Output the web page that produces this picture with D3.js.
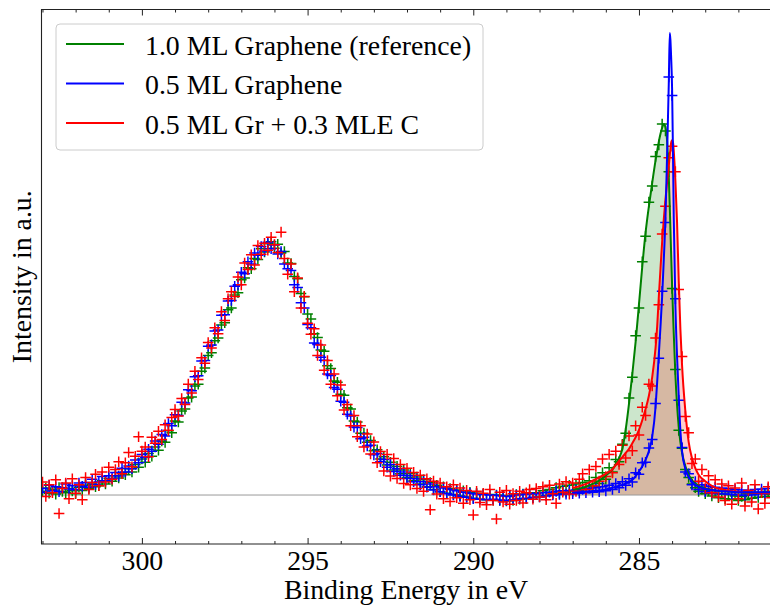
<!DOCTYPE html>
<html>
<head>
<meta charset="utf-8">
<script src="https://cdn.jsdelivr.net/npm/d3@7"></script>
<style>
  html, body { margin: 0; padding: 0; background: #fff; }
  svg { display: block; }
  text { font-family: "Liberation Serif", "DejaVu Serif", serif; fill: #000; }
</style>
</head>
<body>
<svg id="chart" width="770" height="605"></svg>
<script>
// C 1s / broad-feature XPS spectra, intensities normalised to the 0.5 ML peak (x1000)
const energyStart = 303.0;
const energyStep = 0.1;
const pointCount = 221;

const seriesNames = ["1.0 ML Graphene (reference)", "0.5 ML Graphene", "0.5 ML Gr + 0.3 MLE C"];
const seriesColors = ["#008000", "#0000ff", "#ff0000"];

const dataGreen = [
  8,15,4,12,2,16,8,5,14,9,3,17,10,21,14,24,18,20,31,24,
  36,30,42,37,49,44,57,50,66,60,78,71,90,84,104,97,117,114,139,135,
  160,158,182,186,210,212,236,240,268,275,302,308,334,340,368,373,401,405,433,438,
  466,470,492,490,512,510,533,526,544,548,534,543,524,527,502,501,473,468,436,429,
  392,381,349,341,314,311,280,274,247,244,218,216,189,186,160,158,134,134,114,118,
  96,98,78,83,65,71,54,62,46,54,38,46,31,39,24,33,18,27,12,21,
  7,18,4,14,1,11,-2,9,-4,6,-7,4,-9,2,-10,1,-11,0,-12,-1,
  -13,-2,-12,1,-9,2,-8,3,-6,5,-3,9,-1,12,2,16,4,19,6,21,
  8,24,10,27,13,31,18,38,25,48,34,59,50,77,72,110,134,210,255,345,
  405,505,560,634,669,733,758,803,788,700,447,272,140,101,55,38,24,16,8,12,
  3,9,-2,4,-6,2,-8,1,-9,-2,-12,-3,-10,2,-7,4,-5,6,-3,8,
  1
];

const dataBlue = [
  14,6,21,10,18,7,16,24,13,20,12,26,19,27,17,34,23,28,40,31,
  42,36,49,41,58,50,63,57,76,70,88,82,99,95,117,110,131,128,155,150,
  174,172,201,199,228,226,256,258,290,291,322,325,355,357,389,390,420,421,452,455,
  482,479,505,500,524,519,538,528,547,533,541,522,527,500,490,486,455,449,416,405,
  369,362,329,326,298,292,262,259,233,229,203,201,175,171,147,146,122,125,106,108,
  87,90,72,77,60,66,51,57,43,50,36,42,29,35,22,29,17,24,11,18,
  7,15,3,12,0,9,-3,6,-5,4,-8,2,-9,1,-10,0,-9,-1,-11,-2,
  -12,-3,-10,0,-8,1,-7,2,-5,3,-4,5,-2,6,0,8,1,9,2,10,
  3,11,4,12,5,14,6,16,7,18,9,21,12,25,16,29,21,35,28,48,
  45,70,71,102,120,198,296,441,590,905,865,425,205,103,50,46,22,29,12,22,
  7,19,4,17,3,15,2,14,1,12,0,11,-1,10,0,12,2,13,3,14,
  5
];

const dataRed = [
  28,-3,22,5,33,-40,14,26,-8,35,4,22,-10,38,12,27,45,20,50,28,
  60,34,55,72,46,70,92,61,84,126,95,104,83,125,112,138,120,152,140,168,
  185,171,209,196,240,221,268,250,297,285,330,318,362,349,397,378,425,440,430,472,
  455,502,488,520,498,540,521,545,530,558,542,525,569,512,478,500,440,470,405,430,
  372,348,360,302,325,270,291,240,262,215,238,184,196,150,172,126,150,104,132,89,
  115,70,94,52,88,41,79,36,66,25,58,22,49,14,43,8,35,-32,30,2,
  26,-8,18,-14,22,-6,15,-18,10,-10,-43,8,-16,4,-21,12,-12,-52,6,-15,
  10,-20,3,-12,8,-17,5,12,-9,14,-4,18,-10,21,3,-18,24,6,29,2,
  26,8,34,46,12,55,20,62,30,78,40,88,48,95,66,108,80,128,96,150,
  130,190,172,240,236,340,412,565,625,730,755,700,445,300,170,135,68,78,30,55,
  14,42,5,33,-4,24,-12,20,-20,15,-8,26,-24,10,-15,22,-30,5,-18,18,
  -6
];

// Fitted line shapes, sampled on a finer grid around the C 1s peak
const fitEnergy = [
  287.0,286.8,286.6,286.4,286.2,286.0,285.8,285.6,285.5,285.4,
  285.3,285.2,285.1,285.0,284.9,284.8,284.7,284.6,284.5,284.45,
  284.4,284.35,284.3,284.25,284.2,284.15,284.1,284.07,284.05,284.03,
  284.0,283.97,283.95,283.9,283.85,283.8,283.75,283.7,283.6,283.5,
  283.4,283.3,283.2,283.0,282.8,282.6,282.4,282.2,282.0,281.5,
  281.0
];
const fitGreen = [
  12,14,18,24,31,42,56,80,100,142,
  198,262,332,412,495,568,625,676,724,745,
  765,782,795,803,796,765,690,625,575,525,
  455,390,350,260,195,148,115,92,62,44,
  32,25,20,14,11,9,8,7,6,5,
  4
];
const fitBlue = [
  5,6,7,9,10,12,16,20,22,25,
  28,33,41,51,62,76,95,126,190,245,
  305,365,430,510,600,740,890,1000,985,950,
  880,720,600,410,300,215,140,95,57,39,
  29,22,18,13,11,9,8,7,6,6,
  6
];
const fitRed = [
  15,19,24,31,38,46,56,74,82,91,
  100,112,125,141,162,186,215,255,318,365,
  430,490,548,598,640,678,712,735,750,762,
  768,762,745,680,590,465,360,282,182,115,
  80,58,44,30,20,14,11,9,7,5,
  3
];

const xTicksMajor = [300, 295, 290, 285];
const xTicksMinor = d3.range(282, 304, 1);

const xLabel = "Binding Energy in eV";
const yLabel = "Intensity in a.u.";

// ---- layout
const fontSize = 27.8;
const plot = { left: 41.5, right: 771.5, top: 9.5, bottom: 544 };
const svg = d3.select("#chart");

const x = d3.scaleLinear().domain([303.03, 281.0]).range([plot.left, plot.right]);
const y = d3.scaleLinear().domain([-106, 1051]).range([plot.bottom, plot.top]);

const energies = d3.range(pointCount).map(i => +(energyStart - energyStep * i).toFixed(1));

svg.append("defs").append("clipPath").attr("id", "plot-clip")
  .append("rect")
  .attr("x", plot.left).attr("y", plot.top)
  .attr("width", plot.right - plot.left).attr("height", plot.bottom - plot.top);

const body = svg.append("g").attr("clip-path", "url(#plot-clip)");

// shaded fit areas
const fitArea = d3.area()
  .x((d, i) => x(fitEnergy[i]))
  .y0(y(0))
  .y1(d => y(d))
  .curve(d3.curveMonotoneX);

body.append("path").attr("d", fitArea(fitGreen))
  .attr("fill", seriesColors[0]).attr("fill-opacity", 0.2);
body.append("path").attr("d", fitArea(fitRed))
  .attr("fill", seriesColors[2]).attr("fill-opacity", 0.2);

// zero line
body.append("line")
  .attr("x1", plot.left).attr("x2", plot.right)
  .attr("y1", y(0)).attr("y2", y(0))
  .attr("stroke", "#999").attr("stroke-width", 1);

// measured points as "+" markers
const plusPath = (cx, cy, r) => `M${cx - r},${cy}H${cx + r}M${cx},${cy - r}V${cy + r}`;
[dataGreen, dataBlue, dataRed].forEach((vals, k) => {
  const d = vals.map((v, i) => plusPath(x(energies[i]), y(v), 5.3)).join("");
  body.append("path").attr("d", d)
    .attr("fill", "none").attr("stroke", seriesColors[k]).attr("stroke-width", 1.5);
});

// fitted lines
const fitLine = d3.line()
  .x((d, i) => x(fitEnergy[i]))
  .y(d => y(d))
  .curve(d3.curveMonotoneX);

[[fitGreen, 0], [fitRed, 2], [fitBlue, 1]].forEach(([vals, k]) => {
  body.append("path").attr("d", fitLine(vals))
    .attr("fill", "none").attr("stroke", seriesColors[k]).attr("stroke-width", 2);
});

// ---- axes (ticks pointing inward, mirrored on top)
const axisColor = "#222";
const minorValues = xTicksMinor.filter(v => !xTicksMajor.includes(v));

const bottomAxis = svg.append("g").attr("transform", `translate(0,${plot.bottom})`)
  .call(d3.axisBottom(x).tickValues(xTicksMajor).tickSize(-6).tickFormat(d3.format("d")));
bottomAxis.select(".domain").remove();
bottomAxis.selectAll(".tick line").attr("stroke", axisColor);
bottomAxis.selectAll(".tick text")
  .attr("font-family", '"Liberation Serif", serif').attr("font-size", fontSize)
  .attr("dy", null).attr("y", 26);

const minorBottom = svg.append("g").attr("transform", `translate(0,${plot.bottom})`)
  .call(d3.axisBottom(x).tickValues(minorValues).tickSize(-3).tickFormat(""));
minorBottom.select(".domain").remove();
minorBottom.selectAll(".tick line").attr("stroke", axisColor);

const topAxis = svg.append("g").attr("transform", `translate(0,${plot.top})`)
  .call(d3.axisTop(x).tickValues(xTicksMajor).tickSize(-6).tickFormat(""));
topAxis.select(".domain").remove();
topAxis.selectAll(".tick line").attr("stroke", axisColor);
const minorTop = svg.append("g").attr("transform", `translate(0,${plot.top})`)
  .call(d3.axisTop(x).tickValues(minorValues).tickSize(-3).tickFormat(""));
minorTop.select(".domain").remove();
minorTop.selectAll(".tick line").attr("stroke", axisColor);

// frame
svg.append("path")
  .attr("d", `M${plot.right},${plot.top}H${plot.left}V${plot.bottom}H${plot.right}`)
  .attr("fill", "none").attr("stroke", axisColor).attr("stroke-width", 1.1);

// axis titles
svg.append("text")
  .attr("x", (plot.left + plot.right) / 2 - 0.5).attr("y", 599)
  .attr("text-anchor", "middle").attr("font-size", fontSize)
  .text(xLabel);
svg.append("text")
  .attr("transform", `translate(31,${(plot.top + plot.bottom) / 2}) rotate(-90)`)
  .attr("text-anchor", "middle").attr("font-size", fontSize)
  .text(yLabel);

// ---- legend
const legend = svg.append("g");
legend.append("rect")
  .attr("x", 56).attr("y", 24).attr("width", 427).attr("height", 126)
  .attr("rx", 4).attr("ry", 4)
  .attr("fill", "#fff").attr("fill-opacity", 0.8)
  .attr("stroke", "#ccc").attr("stroke-width", 1);
seriesNames.forEach((name, k) => {
  const cy = 44 + k * 39.5;
  legend.append("line")
    .attr("x1", 66).attr("x2", 124).attr("y1", cy).attr("y2", cy)
    .attr("stroke", seriesColors[k]).attr("stroke-width", 2);
  legend.append("text")
    .attr("x", 145).attr("y", cy + 10.5)
    .attr("font-size", fontSize)
    .text(name);
});
</script>
</body>
</html>
